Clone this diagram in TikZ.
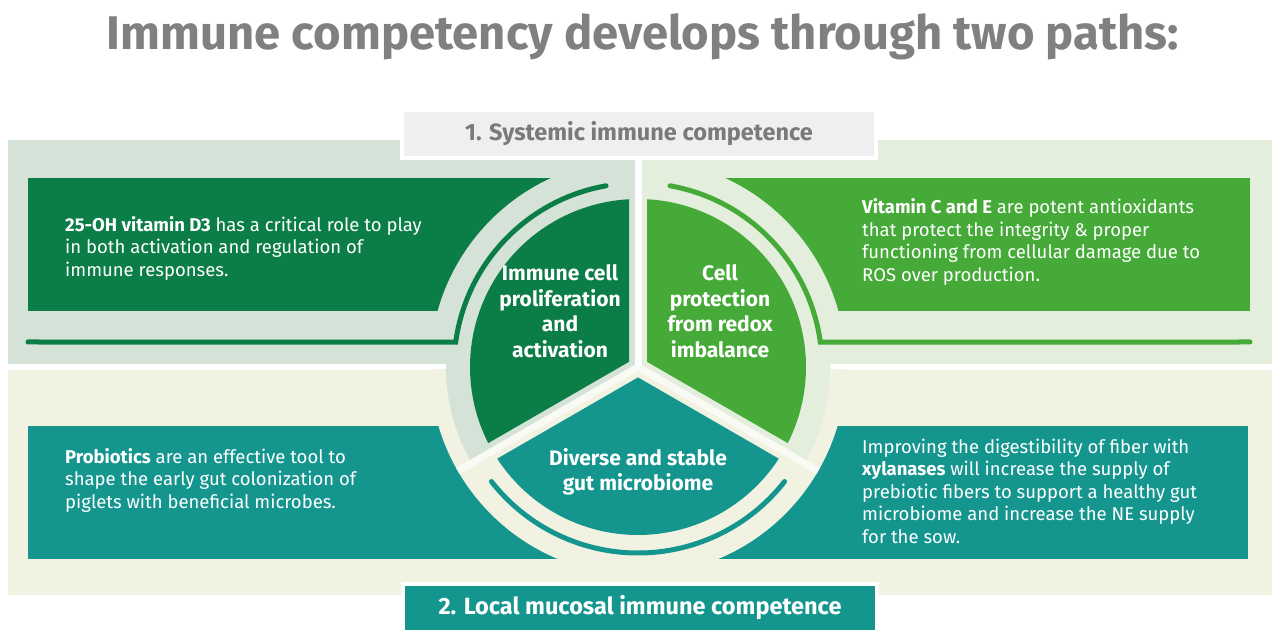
\documentclass[tikz,border=0pt]{standalone}
\usepackage{fontspec}
\setmainfont{Fira Sans}
\usepackage{tikz}
\usetikzlibrary{calc}
\definecolor{darkgr}{HTML}{0B7D46}
\definecolor{lightgr}{HTML}{45AA38}
\definecolor{tealgr}{HTML}{14968F}
\definecolor{paneltl}{HTML}{D4E2D8}
\definecolor{paneltr}{HTML}{E4EEDC}
\definecolor{panelb}{HTML}{F2F2E2}
\definecolor{headgray}{HTML}{EFEFEF}
\colorlet{titlegray}{black!50}
\colorlet{gapcol}{panelb!40!white}

\begin{document}
\begin{tikzpicture}[
x=1pt,y=1pt,
BoxText/.style={anchor=west,inner sep=0pt,align=left,text=white,font=\fontsize{18.5}{22.5}\selectfont},
SectorText/.style={inner sep=0pt,align=center,text=white,font=\fontsize{21}{25.5}\selectfont\bfseries},
BandLabel/.style={draw=white,line width=4pt,minimum width=474pt,minimum height=48pt,font=\fontsize{23.5}{26}\selectfont\bfseries},
ThinArc/.style={line width=5pt,line cap=round},
GapLine/.style={line width=7pt}
]
\useasboundingbox (0,0) rectangle (1280,638);
\fill[white] (0,0) rectangle (1280,638);

% centre of the wheel
\pgfmathparse{638}		\let\Xo\pgfmathresult
\pgfmathparse{271}		\let\Yo\pgfmathresult
\coordinate (O) at (\Xo,\Yo);

\node[anchor=base,text=titlegray,font=\fontsize{47.2}{50}\selectfont\bfseries] (title) at (643,588) {Immune competency develops through two paths:};

% background bands
\fill[paneltl] (8,273) rectangle (635,498);
\fill[paneltr] (642,273) rectangle (1272,498);
\fill[panelb] (8,43) rectangle (1272,268);

% coloured boxes
\fill[darkgr] (28,327) rectangle (638,460);
\fill[lightgr] (638,327) rectangle (1250,460);
\fill[tealgr] (28,79) rectangle (1248,212);

\begin{scope}[shift={(O)}]
% cut-out round the wheel
\fill[paneltl] (0,0) -- (90:208) arc[start angle=90,end angle=180,radius=208] -- cycle;
\fill[paneltr] (0,0) -- (0:208) arc[start angle=0,end angle=90,radius=208] -- cycle;
\fill[panelb] (0,0) -- (180:208) arc[start angle=180,end angle=360,radius=208] -- cycle;
\draw[white,line width=5pt] (-630,0.5) -- (634,0.5);

% ring
\fill[paneltl] (0,0) -- (90:192) arc[start angle=90,end angle=210,radius=192] -- cycle;
\fill[paneltr] (0,0) -- (-30:192) arc[start angle=-30,end angle=90,radius=192] -- cycle;
\fill[panelb] (0,0) -- (210:192) arc[start angle=210,end angle=330,radius=192] -- cycle;

\draw[white,GapLine] (0,0) -- (90:215);
\draw[gapcol,GapLine] (0,0) -- (210:208);
\draw[gapcol,GapLine] (0,0) -- (330:208);

% thin lines
\draw[darkgr,ThinArc] (-610,25) -- (172.2:184) arc[start angle=172.2,end angle=100,radius=184];
\draw[lightgr,ThinArc] (612,25) -- (7.8:184) arc[start angle=7.8,end angle=80,radius=184];
\draw[tealgr,ThinArc] (218:186) arc[start angle=218,end angle=322,radius=186];

% sectors
\fill[darkgr] (150:10.4) -- (93.07:168) arc[start angle=93.07,end angle=206.93,radius=168] -- cycle;
\fill[lightgr] (30:10.4) -- (-26.93:168) arc[start angle=-26.93,end angle=86.93,radius=168] -- cycle;
\fill[tealgr] (270:10.4) -- (213.07:168) arc[start angle=213.07,end angle=326.93,radius=168] -- cycle;

\node[SectorText] (prolif) at (-78,56) {Immune cell\\proliferation\\and\\activation};
\node[SectorText] (redox) at (82,56) {Cell\\protection\\from redox\\imbalance};
\node[SectorText] (gut) at (0,-105) {Diverse and stable\\gut microbiome};
\end{scope}

\node[BandLabel,fill=headgray,text=black!52] (systemic) at (639,504) {1. Systemic immune competence};
\node[BandLabel,fill=tealgr,text=white] (mucosal) at (640,30) {2. Local mucosal immune competence};

\node[BoxText] (vitd) at (65,390) {\textbf{25-OH vitamin D3} has a critical role to play\\in both activation and regulation of\\immune responses.};
\node[BoxText] (vitce) at (862,396) {\textbf{Vitamin C and E} are potent antioxidants\\that protect the integrity \& proper\\functioning from cellular damage due to\\ROS over production.};
\node[BoxText] (probio) at (65,158) {\textbf{Probiotics} are an effective tool to\\shape the early gut colonization of\\piglets with beneficial microbes.};
\node[BoxText] (xylan) at (862,147) {Improving the digestibility of fiber with\\\textbf{xylanases} will increase the supply of\\prebiotic fibers to support a healthy gut\\microbiome and increase the NE supply\\for the sow.};

\end{tikzpicture}
\end{document}
